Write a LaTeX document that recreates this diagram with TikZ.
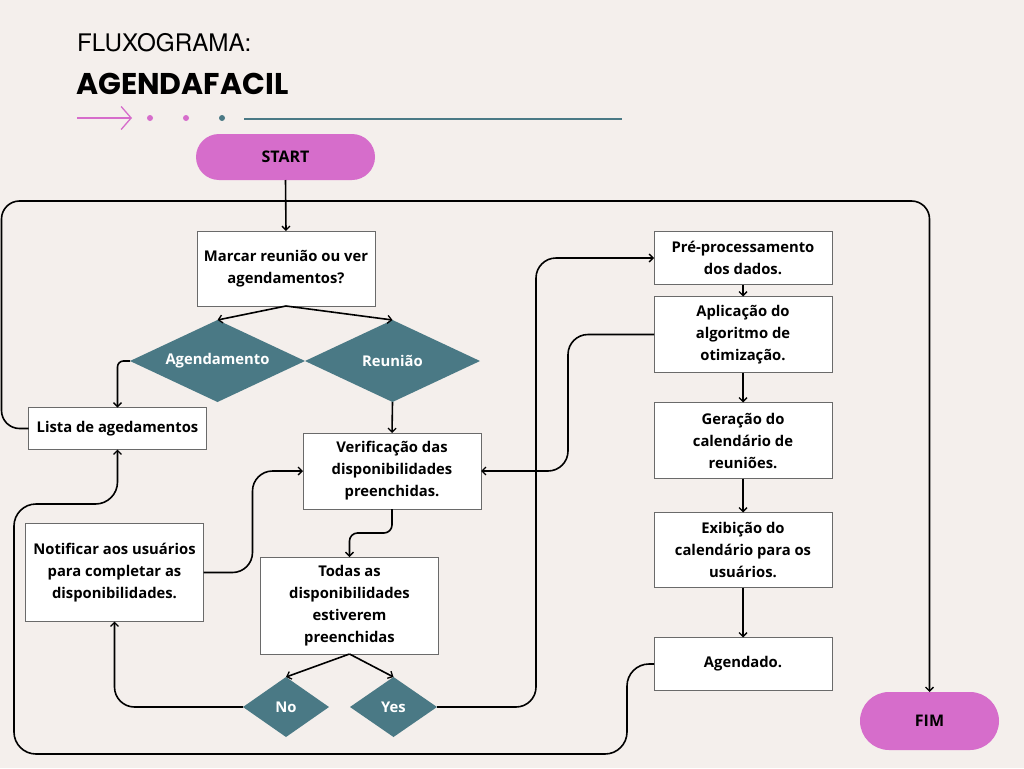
\documentclass[tikz,border=0pt]{standalone}
\usepackage{fontspec}
\setmainfont{Open Sans}
\newfontfamily\titlefont{Poppins}
\newfontfamily\herosfont{TeX Gyre Heros}
\usetikzlibrary{arrows.meta,shapes.geometric}
\definecolor{bg}{HTML}{F4EFEC}
\definecolor{pinkc}{HTML}{D66DCB}
\definecolor{tealc}{HTML}{4A7985}
\definecolor{boxline}{HTML}{6A6A6A}
\tikzset{
  box/.style={draw=boxline, line width=1pt, fill=white, minimum width=178pt, align=center,
    font=\fontsize{14.8}{22}\selectfont\bfseries, inner sep=0pt, outer sep=0pt},
  dia/.style={diamond, fill=tealc, inner sep=0pt, outer sep=0pt, text=white,
    font=\fontsize{14.8}{16}\selectfont\bfseries},
  pill/.style={fill=pinkc, inner sep=0pt, outer sep=0pt, font=\fontsize{16}{18}\selectfont\bfseries},
  conn/.style={draw=black, line width=1.6pt, -{Straight Barb[length=4pt,width=8pt,line width=1.3pt]}},
}
\begin{document}
\begin{tikzpicture}[x=1pt,y=-1pt]
\useasboundingbox (0,0) rectangle (1024,768);
\fill[bg] (0,0) rectangle (1024,768);

% header
\node[anchor=base west, inner sep=0pt, font=\herosfont\fontsize{24.2}{26}\selectfont] (t1) at (77,52) {FLUXOGRAMA:};
\node[anchor=base west, inner sep=0pt, font=\titlefont\fontsize{30}{32}\selectfont\bfseries] (t2) at (76,94) {AGENDAFACIL};
\coordinate (ha) at (77,118);
\coordinate (hb) at (132,118);
\draw[pinkc, line width=1.3pt, -{Straight Barb[length=10pt,width=23pt,line width=1.3pt]}] (ha) -- (hb);
\fill[pinkc] (150,118) circle (3);
\fill[pinkc] (186,118) circle (3);
\fill[tealc] (222,118) circle (3);
\coordinate (la) at (244,119);
\coordinate (lb) at (622,119);
\draw[tealc, line width=2pt] (la) -- (lb);

% terminals
\node[pill, minimum width=179pt, minimum height=46pt, rounded corners=23pt] (start) at (285.5,157) {START};
\node[pill, minimum width=139pt, minimum height=58pt, rounded corners=29pt] (fim) at (929.5,721) {FIM};

% boxes
\node[box, minimum height=75pt] (marcar) at (286,268.5) {Marcar reunião ou ver\\agendamentos?};
\node[box, minimum height=42pt] (lista) at (117.5,428.5) {Lista de agedamentos};
\node[box, minimum height=76pt] (verif) at (392,471) {Verificação das\\disponibilidades\\preenchidas.};
\node[box, minimum height=98pt] (notif) at (114.5,572.5) {Notificar aos usuários\\para completar as\\disponibilidades.};
\node[box, minimum height=97pt] (todas) at (349.5,605.5) {Todas as\\disponibilidades\\estiverem\\preenchidas};
\node[box, minimum height=53pt] (pre) at (743,258) {Pré-processamento\\dos dados.};
\node[box, minimum height=76pt] (apl) at (743,334.5) {Aplicação do\\algoritmo de\\otimização.};
\node[box, minimum height=76pt] (ger) at (743,440.5) {Geração do\\calendário de\\reuniões.};
\node[box, minimum height=75pt] (exib) at (743,550) {Exibição do\\calendário para os\\usuários.};
\node[box, minimum height=53pt] (agd) at (743,664) {Agendado.};

% diamonds
\node[dia, aspect=2.3, minimum width=175pt, minimum height=82pt] (agend) at (217.5,361) {Agendamento};
\node[dia, aspect=2.13, minimum width=175pt, minimum height=82pt] (reun) at (392.5,361) {Reunião};
\node[dia, aspect=1.43, minimum width=86pt, minimum height=60pt] (no) at (286,707) {No};
\node[dia, aspect=1.45, minimum width=87pt, minimum height=60pt] (yes) at (393.5,707) {Yes};

% connectors
\coordinate (l1) at (1.5,201);
\draw[conn, rounded corners=18pt] (lista.west) -| (l1) -| (fim.north);
\draw[conn] (start.south) -- (marcar.north);
\draw[conn] (marcar.south) -- (agend.north);
\draw[conn] (marcar.south) -- (reun.north);
\draw[conn, rounded corners=6pt] (agend.west) -| (lista.north);
\draw[conn] (reun.south) -- (verif.north);
\draw[conn, rounded corners=8pt] (verif.south) -- ++(0,24) -| (todas.north);
\draw[conn, rounded corners=20pt] (notif.east) -- ++(49,0) |- (verif.west);
\draw[conn] (todas.south) -- (no.north);
\draw[conn] (todas.south) -- (yes.north);
\draw[conn, rounded corners=20pt] (no.west) -| (notif.south);
\draw[conn, rounded corners=20pt] (yes.east) -- ++(99,0) |- (pre.west);
\draw[conn, rounded corners=20pt] (apl.west) -- ++(-86,0) |- (verif.east);
\draw[conn] (pre.south) -- (apl.north);
\draw[conn] (apl.south) -- (ger.north);
\draw[conn] (ger.south) -- (exib.north);
\draw[conn] (exib.south) -- (agd.north);
\coordinate (b1) at (627,754);
\coordinate (b2) at (14,754);
\coordinate (b3) at (14,504);
\draw[conn, rounded corners=22pt] (agd.west) -| (b1) -- (b2) -- (b3) -| (lista.south);
\end{tikzpicture}
\end{document}
